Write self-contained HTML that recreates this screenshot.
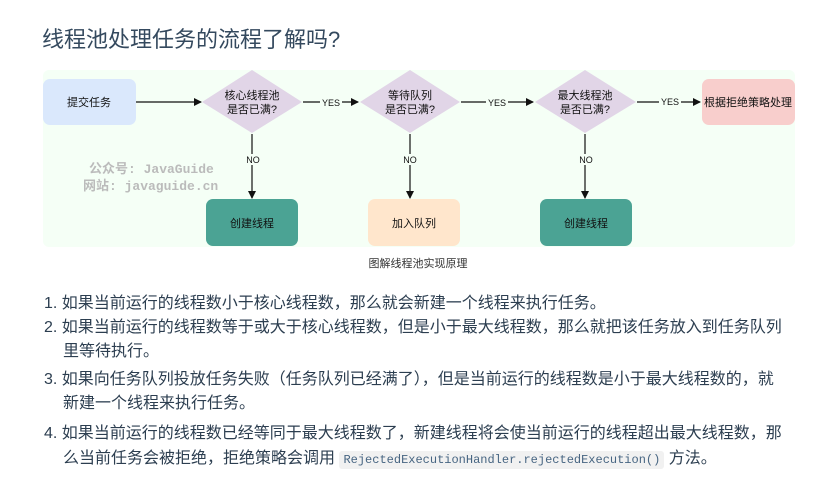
<!DOCTYPE html>
<html><head><meta charset="utf-8"><style>
body{margin:0;width:816px;height:484px;background:#fff;position:relative;overflow:hidden;font-family:"Liberation Sans","Noto Sans CJK SC",sans-serif;color:#2c3e50}
.a{position:absolute;white-space:nowrap}
.t{font-size:16px;line-height:20px}
code{font-family:"Liberation Mono",monospace;font-size:12px;background:#f1f1f1;border-radius:3px;padding:2px 4px;color:#476582}
</style></head><body>
<div class="a" style="left:42px;top:26px;font-size:22px;line-height:28px;color:#34495e">线程池处理任务的流程了解吗?</div>
<svg class="a" style="left:0;top:0" width="816" height="280" font-family="Liberation Sans,Noto Sans CJK SC,sans-serif">
<defs><marker id="m" markerWidth="8" markerHeight="8" refX="7" refY="4" orient="auto" markerUnits="userSpaceOnUse"><path d="M0,0L8,4L0,8z" fill="#111"/></marker></defs>
<rect x="43" y="70" width="752" height="177" rx="6" fill="#f5fff6"/>
<rect x="43" y="79" width="93" height="46" rx="7" fill="#dae8fc"/>
<text x="89" y="106" font-size="11" text-anchor="middle" fill="#111">提交任务</text>
<g fill="#e1d5e7">
<path d="M252,70L302,102L252,133L202,102z"/>
<path d="M410,70L460,102L410,133L360,102z"/>
<path d="M585,70L636,102L585,133L535,102z"/>
</g>
<g font-size="11" text-anchor="middle" fill="#111">
<text x="252" y="99">核心线程池</text><text x="252" y="113">是否已满?</text>
<text x="410" y="99">等待队列</text><text x="410" y="113">是否已满?</text>
<text x="585" y="99">最大线程池</text><text x="585" y="113">是否已满?</text>
</g>
<rect x="702" y="79" width="93" height="46" rx="7" fill="#f8cecc"/>
<text x="748" y="106" font-size="11" text-anchor="middle" fill="#111">根据拒绝策略处理</text>
<g stroke="#111" stroke-width="1.2" marker-end="url(#m)">
<line x1="136" y1="102" x2="201" y2="102"/>
<line x1="303" y1="102" x2="358" y2="102"/>
<line x1="461" y1="102" x2="533" y2="102"/>
<line x1="637" y1="102" x2="700" y2="102"/>
<line x1="252" y1="134" x2="252" y2="198"/>
<line x1="410" y1="134" x2="410" y2="198"/>
<line x1="585" y1="134" x2="585" y2="198"/>
</g>
<g font-size="9" text-anchor="middle" fill="#111">
<rect x="320" y="97" width="22" height="10" fill="#f5fff6"/><text x="331" y="106">YES</text>
<rect x="486" y="97" width="22" height="10" fill="#f5fff6"/><text x="497" y="106">YES</text>
<rect x="659" y="96" width="22" height="10" fill="#f5fff6"/><text x="670" y="105">YES</text>
<rect x="245" y="154" width="15" height="11" fill="#f5fff6"/><text x="253" y="163">NO</text>
<rect x="403" y="154" width="15" height="11" fill="#f5fff6"/><text x="410" y="163">NO</text>
<rect x="578" y="154" width="15" height="11" fill="#f5fff6"/><text x="586" y="163">NO</text>
</g>
<rect x="206" y="199" width="92" height="47" rx="7" fill="#4ba394"/>
<rect x="368" y="199" width="92" height="47" rx="7" fill="#ffe6cc"/>
<rect x="540" y="199" width="92" height="47" rx="7" fill="#4ba394"/>
<g font-size="11" text-anchor="middle" fill="#111">
<text x="252" y="227">创建线程</text><text x="414" y="227">加入队列</text><text x="586" y="227">创建线程</text>
</g>
<g font-size="13" fill="#bbb" font-family="Liberation Mono,Noto Sans CJK SC,monospace" font-weight="bold">
<text x="89" y="173">公众号: JavaGuide</text>
<text x="83" y="190">网站: javaguide.cn</text>
</g>
<text x="418" y="267" font-size="11" text-anchor="middle" fill="#333">图解线程池实现原理</text>
</svg>
<div class="a t" style="left:44px;top:294px">1. 如果当前运行的线程数小于核心线程数，那么就会新建一个线程来执行任务。</div>
<div class="a t" style="left:44px;top:318px">2. 如果当前运行的线程数等于或大于核心线程数，但是小于最大线程数，那么就把该任务放入到任务队列</div>
<div class="a t" style="left:63px;top:342px">里等待执行。</div>
<div class="a t" style="left:44px;top:370px">3. 如果向任务队列投放任务失败（任务队列已经满了），但是当前运行的线程数是小于最大线程数的，就</div>
<div class="a t" style="left:63px;top:394px">新建一个线程来执行任务。</div>
<div class="a t" style="left:44px;top:424px">4. 如果当前运行的线程数已经等同于最大线程数了，新建线程将会使当前运行的线程超出最大线程数，那</div>
<div class="a t" style="left:63px;top:449px">么当前任务会被拒绝，拒绝策略会调用 <code>RejectedExecutionHandler.rejectedExecution()</code> 方法。</div>
</body></html>
